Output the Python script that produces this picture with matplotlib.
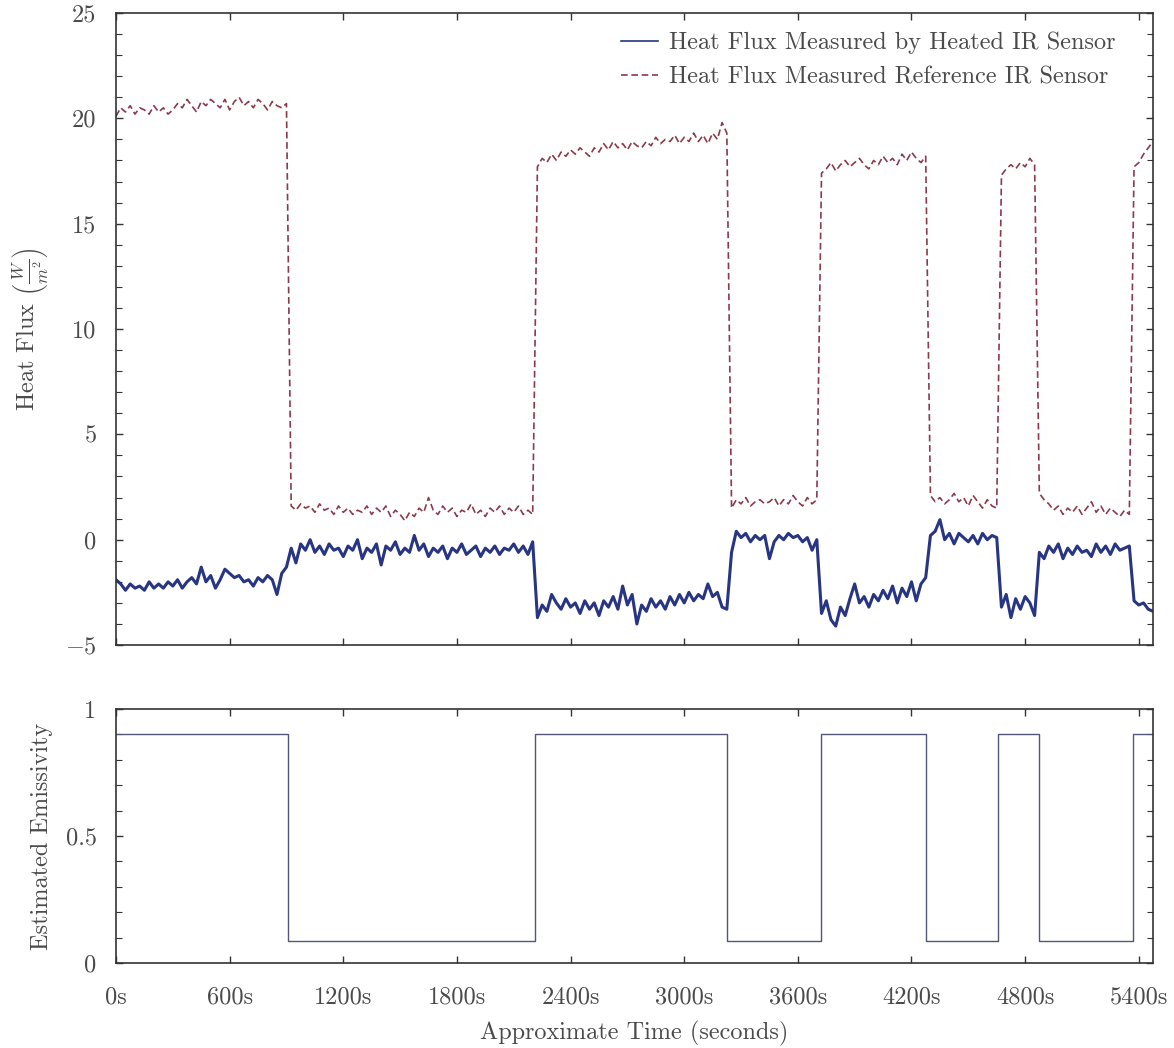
import numpy as np
import matplotlib
matplotlib.use("Agg")
import matplotlib.pyplot as plt
from matplotlib.ticker import MultipleLocator

plt.rcParams['font.family'] = 'serif'
plt.rcParams['font.serif'] = ['cmr10']
plt.rcParams['mathtext.fontset'] = 'cm'
plt.rcParams['axes.unicode_minus'] = False

# sample times (s), one reading every 25 s
time_s = np.arange(0, 5476, 25)

# heat flux seen by the heated IR sensor (W/m^2)
flux_heated = [
    # 0 - 900 s
    -1.9, -2.1, -2.4, -2.1, -2.3, -2.2, -2.4, -2.0, -2.3, -2.1,
    -2.3, -2.0, -2.2, -1.9, -2.3, -2.0, -1.8, -2.1, -1.3, -2.0,
    -1.7, -2.3, -1.9, -1.4, -1.6, -1.8, -1.7, -2.0, -1.9, -2.2,
    -1.8, -2.0, -1.7, -1.9, -2.6, -1.6, -1.3,
    # 925 - 2200 s
    -0.4, -1.1, -0.2, -0.5, 0.0, -0.6, -0.3, -0.7, -0.2, -0.5,
    -0.4, -0.8, -0.3, -0.5, 0.0, -0.9, -0.4, -0.6, -0.2, -1.2,
    -0.3, -0.5, -0.1, -0.7, -0.4, -0.6, 0.2, -0.5, -0.2, -0.8,
    -0.4, -0.6, -0.3, -0.9, -0.4, -0.6, -0.2, -0.7, -0.5, -0.3,
    -0.8, -0.4, -0.6, -0.3, -0.7, -0.4, -0.5, -0.2, -0.6, -0.3,
    -0.7, -0.1,
    # 2225 - 3225 s
    -3.7, -3.1, -3.4, -2.6, -3.0, -3.3, -2.8, -3.2, -3.0, -3.5,
    -2.9, -3.3, -3.0, -3.6, -2.9, -3.2, -2.7, -3.3, -2.2, -3.1,
    -2.6, -4.0, -3.1, -3.4, -2.8, -3.2, -2.9, -3.3, -2.7, -3.1,
    -2.6, -3.0, -2.5, -2.9, -2.6, -2.8, -2.1, -2.7, -2.5, -3.2,
    -3.3,
    # 3250 - 3700 s
    -0.6, 0.4, 0.1, 0.3, -0.1, 0.2, 0.0, 0.2, -0.9, -0.1,
    0.2, 0.0, 0.3, 0.1, 0.2, -0.1, 0.1, -0.5, 0.0,
    # 3725 - 4275 s
    -3.5, -2.9, -3.8, -4.1, -3.2, -3.6, -2.8, -2.1, -3.0, -2.7,
    -3.2, -2.6, -2.9, -2.4, -2.8, -2.2, -3.0, -2.3, -2.7, -2.0,
    -2.9, -2.1, -1.8,
    # 4300 - 4650 s
    0.2, 0.4, 0.95, 0.0, 0.3, -0.2, 0.3, 0.1, -0.1, 0.2,
    -0.2, 0.3, 0.0, 0.2, 0.1,
    # 4675 - 4850 s
    -3.2, -2.6, -3.7, -2.8, -3.3, -2.7, -3.0, -3.6,
    # 4875 - 5350 s
    -0.6, -0.9, -0.3, -0.6, -0.2, -0.9, -0.4, -0.7, -0.3, -0.6,
    -0.5, -0.8, -0.2, -0.6, -0.3, -0.7, -0.2, -0.5, -0.4, -0.3,
    # 5375 - 5475 s
    -2.9, -3.1, -3.0, -3.3, -3.4,
]

# heat flux seen by the reference IR sensor (W/m^2)
flux_reference = [
    # 0 - 900 s
    20.1, 20.5, 20.3, 20.6, 20.2, 20.5, 20.4, 20.2, 20.6, 20.3,
    20.5, 20.2, 20.4, 20.7, 20.5, 20.9, 20.6, 20.3, 20.8, 20.6,
    20.9, 20.7, 20.5, 20.9, 20.4, 20.8, 21.0, 20.6, 20.8, 20.5,
    20.9, 20.7, 20.4, 20.8, 20.6, 20.5, 20.7,
    # 925 - 2200 s
    1.6, 1.4, 1.7, 1.5, 1.6, 1.3, 1.7, 1.4, 1.5, 1.2,
    1.6, 1.3, 1.5, 1.2, 1.4, 1.3, 1.6, 1.2, 1.5, 1.3,
    1.6, 1.1, 1.4, 1.2, 0.9, 1.3, 1.1, 1.5, 1.3, 2.0,
    1.4, 1.2, 1.6, 1.3, 1.5, 1.1, 1.4, 1.3, 1.7, 1.2,
    1.4, 1.1, 1.5, 1.3, 1.6, 1.2, 1.5, 1.3, 1.6, 1.2,
    1.4, 1.2,
    # 2225 - 3225 s
    17.7, 18.1, 17.9, 18.3, 18.0, 18.4, 18.2, 18.5, 18.3, 18.6,
    18.4, 18.2, 18.6, 18.4, 18.8, 18.5, 18.9, 18.6, 18.8, 18.5,
    18.9, 18.7, 18.6, 18.9, 18.7, 19.1, 18.8, 19.0, 18.9, 19.2,
    18.8, 19.1, 18.9, 19.3, 18.9, 19.2, 18.8, 19.3, 19.0, 19.8,
    19.3,
    # 3250 - 3700 s
    1.5, 1.9, 1.7, 2.0, 1.6, 1.8, 1.9, 1.7, 1.8, 2.0,
    1.6, 1.9, 1.7, 2.1, 1.8, 1.6, 2.0, 1.7, 1.9,
    # 3725 - 4275 s
    17.4, 17.6, 17.9, 17.5, 17.8, 18.0, 17.7, 17.9, 18.1, 17.8,
    17.6, 18.0, 17.8, 18.2, 17.9, 18.1, 17.8, 18.3, 18.0, 18.4,
    18.1, 17.9, 18.2,
    # 4300 - 4650 s
    2.1, 1.8, 2.0, 1.7, 1.9, 2.2, 1.8, 2.0, 1.6, 2.1,
    1.8, 1.5, 1.9, 1.6, 1.5,
    # 4675 - 4850 s
    17.3, 17.6, 17.8, 17.6, 17.9, 17.7, 18.1, 17.8,
    # 4875 - 5350 s
    2.2, 1.9, 1.7, 1.4, 1.6, 1.2, 1.5, 1.3, 1.6, 1.2,
    1.5, 1.8, 1.3, 1.6, 1.2, 1.5, 1.3, 1.1, 1.4, 1.2,
    # 5375 - 5475 s
    17.7, 17.9, 18.3, 18.6, 18.9,
]

# estimated emissivity: switch times (s) and level held from each time
emis_times = [0, 910, 2212, 3226, 3722, 4276, 4657, 4873, 5370, 5475]
emis_levels = [0.9, 0.085, 0.9, 0.085, 0.9, 0.085, 0.9, 0.085, 0.9, 0.9]

xtick_vals = [0, 600, 1200, 1800, 2400, 3000, 3600, 4200, 4800, 5400]
xtick_labels = [f"{v}s" for v in xtick_vals]

text_col = '#4a4a4a'
axis_col = '#333333'
fs = 17.5

fig = plt.figure(figsize=(11.74, 10.48), dpi=100)
ax1 = fig.add_axes([0.0988, 0.3845, 0.8833, 0.6031])
ax2 = fig.add_axes([0.0988, 0.0811, 0.8833, 0.2424])

ax1.plot(time_s, flux_heated, color='#283583', lw=2.2,
         label='Heat Flux Measured by Heated IR Sensor')
ax1.plot(time_s, flux_reference, color='#8b3a4e', lw=1.2, dashes=(4, 2.2),
         label='Heat Flux Measured Reference IR Sensor')
ax1.set_xlim(0, 5475)
ax1.set_ylim(-5, 25)
ax1.set_yticks([-5, 0, 5, 10, 15, 20, 25])
ax1.set_yticklabels(['$-5$', '0', '5', '10', '15', '20', '25'])
ax1.yaxis.set_minor_locator(MultipleLocator(1))
ax1.set_xticks(xtick_vals)
ax1.set_xticklabels([])
ax1.set_ylabel(r'Heat Flux $\left(\frac{W}{m^2}\right)$', fontsize=fs,
               color=text_col, labelpad=11)
leg = ax1.legend(loc='upper right', bbox_to_anchor=(0.973, 0.986), borderaxespad=0,
                 frameon=False, fontsize=fs, handlelength=1.5, handletextpad=0.45,
                 labelspacing=0.5)
for t in leg.get_texts():
    t.set_color(text_col)
for h in leg.get_lines():
    h.set_linewidth(1.2)

ax2.step(emis_times, emis_levels, where='post', color='#55557a', lw=1.0)
ax2.set_xlim(0, 5475)
ax2.set_ylim(0, 1)
ax2.set_yticks([0, 0.5, 1])
ax2.set_yticklabels(['0', '0.5', '1'])
ax2.yaxis.set_minor_locator(MultipleLocator(0.1))
ax2.set_xticks(xtick_vals)
ax2.set_xticklabels(xtick_labels)
ax2.set_ylabel('Estimated Emissivity', fontsize=fs, color=text_col, labelpad=9)
ax2.set_xlabel('Approximate Time (seconds)', fontsize=fs, color=text_col, labelpad=9)

for ax in (ax1, ax2):
    for sp in ax.spines.values():
        sp.set_color(axis_col)
        sp.set_linewidth(1.2)
    ax.tick_params(which='both', direction='in', top=True, right=True,
                   color=axis_col, labelsize=fs, labelcolor=text_col)
    ax.tick_params(which='major', length=5, width=1)
    ax.tick_params(which='minor', length=4, width=0.8)
    ax.tick_params(axis='x', pad=17)
    ax.tick_params(axis='y', pad=14)

fig.savefig('out.png', dpi=100)
